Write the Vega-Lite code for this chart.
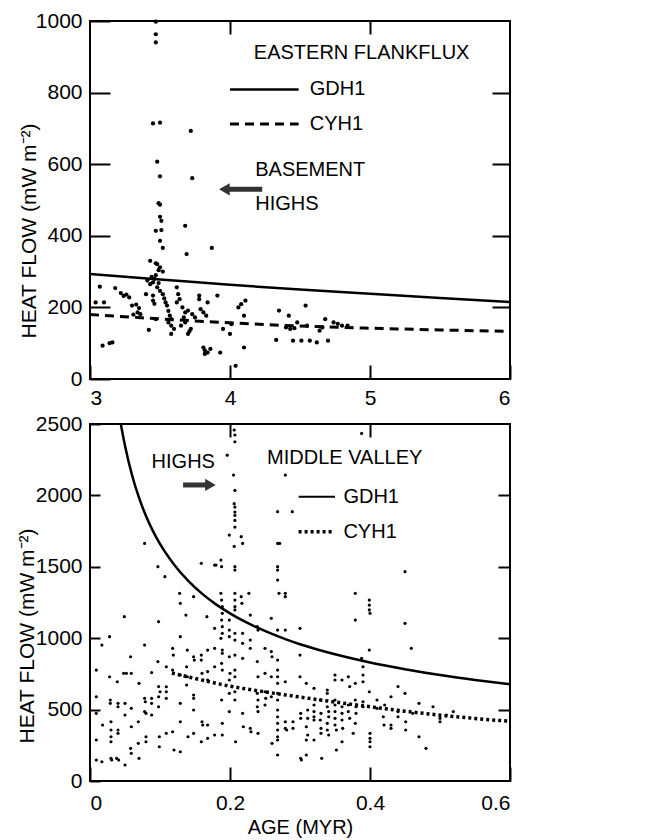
{
  "$schema": "https://vega.github.io/schema/vega-lite/v6.json",
  "padding": {"left": 14, "top": 9, "right": 10, "bottom": 4},
  "config": {
    "view": {"stroke": "black", "strokeWidth": 2},
    "font": "Liberation Sans",
    "axis": {"grid": false, "domain": false, "tickColor": "black", "tickWidth": 2, "labelColor": "black", "labelFont": "Liberation Sans", "labelFontSize": 21, "titleFont": "Liberation Sans", "titleFontSize": 21, "titleFontWeight": "normal", "titleColor": "black"},
    "concat": {"spacing": 3}
  },
  "datasets": {
    "eastPoints": [
      {"age":3.47,"hf":998},{"age":3.47,"hf":963},{"age":3.47,"hf":940},{"age":3.45,"hf":714},{"age":3.50,"hf":716},{"age":3.72,"hf":693},{"age":3.48,"hf":607},{"age":3.50,"hf":566},{"age":3.73,"hf":561},{"age":3.49,"hf":491},{"age":3.50,"hf":487},{"age":3.50,"hf":453},{"age":3.51,"hf":442},{"age":3.68,"hf":428},{"age":3.47,"hf":414},{"age":3.51,"hf":416},{"age":3.50,"hf":386},{"age":3.52,"hf":366},{"age":3.69,"hf":349},{"age":3.87,"hf":366},{"age":3.43,"hf":330},{"age":3.48,"hf":321},{"age":3.50,"hf":312},{"age":3.49,"hf":304},{"age":3.52,"hf":300},{"age":3.47,"hf":323},
      {"age":3.41,"hf":275},{"age":3.44,"hf":285},{"age":3.46,"hf":280},{"age":3.43,"hf":265},{"age":3.47,"hf":290},{"age":3.45,"hf":270},{"age":3.49,"hf":268},
      {"age":3.04,"hf":214},{"age":3.07,"hf":258},{"age":3.10,"hf":214},{"age":3.09,"hf":93},{"age":3.14,"hf":100},{"age":3.16,"hf":102},{"age":3.18,"hf":254},{"age":3.22,"hf":240},{"age":3.24,"hf":232},{"age":3.26,"hf":236},{"age":3.28,"hf":228},{"age":3.30,"hf":205},{"age":3.33,"hf":208},{"age":3.35,"hf":198},{"age":3.34,"hf":186},{"age":3.36,"hf":181},{"age":3.31,"hf":180},{"age":3.40,"hf":237},{"age":3.42,"hf":137},{"age":3.45,"hf":233},{"age":3.45,"hf":219},{"age":3.46,"hf":210},{"age":3.47,"hf":167},{"age":3.48,"hf":256},{"age":3.50,"hf":246},{"age":3.52,"hf":237},{"age":3.53,"hf":225},{"age":3.54,"hf":214},{"age":3.55,"hf":205},{"age":3.56,"hf":190},{"age":3.57,"hf":177},{"age":3.58,"hf":167},{"age":3.56,"hf":158},{"age":3.58,"hf":149},{"age":3.60,"hf":140},{"age":3.58,"hf":126},{"age":3.62,"hf":256},{"age":3.63,"hf":237},{"age":3.64,"hf":223},{"age":3.62,"hf":214},{"age":3.66,"hf":200},{"age":3.68,"hf":186},{"age":3.70,"hf":191},{"age":3.67,"hf":172},{"age":3.65,"hf":149},{"age":3.68,"hf":158},{"age":3.70,"hf":126},{"age":3.71,"hf":133},{"age":3.72,"hf":140},{"age":3.73,"hf":181},{"age":3.75,"hf":172},{"age":3.78,"hf":233},{"age":3.78,"hf":223},{"age":3.79,"hf":195},{"age":3.81,"hf":186},{"age":3.83,"hf":177},{"age":3.84,"hf":214},{"age":3.81,"hf":88},{"age":3.82,"hf":80},{"age":3.84,"hf":74},{"age":3.86,"hf":84},{"age":3.82,"hf":70},{"age":3.91,"hf":233},{"age":3.93,"hf":74},{"age":3.95,"hf":140},{"age":4.00,"hf":126},{"age":4.01,"hf":153},{"age":4.04,"hf":37},{"age":4.06,"hf":200},{"age":4.08,"hf":209},{"age":4.11,"hf":219},{"age":4.10,"hf":177},{"age":4.10,"hf":88},{"age":4.35,"hf":191},{"age":4.33,"hf":109},{"age":4.42,"hf":177},{"age":4.40,"hf":144},{"age":4.43,"hf":140},{"age":4.46,"hf":142},{"age":4.48,"hf":158},{"age":4.45,"hf":107},{"age":4.51,"hf":107},{"age":4.54,"hf":205},{"age":4.55,"hf":149},{"age":4.57,"hf":107},{"age":4.62,"hf":102},{"age":4.66,"hf":144},{"age":4.64,"hf":135},{"age":4.68,"hf":167},{"age":4.70,"hf":107},{"age":4.74,"hf":158},{"age":4.77,"hf":154},{"age":4.80,"hf":149},{"age":4.84,"hf":149}
    ],
    "eastGDH1": [{"age":3,"hf":293},{"age":3.5,"hf":278},{"age":4,"hf":263},{"age":4.5,"hf":250},{"age":5,"hf":238},{"age":5.5,"hf":226},{"age":6,"hf":215}],
    "eastCYH1": [{"age":3,"hf":180},{"age":3.5,"hf":168},{"age":4,"hf":157},{"age":4.5,"hf":148},{"age":5,"hf":142},{"age":5.5,"hf":137},{"age":6,"hf":133}],
    "midPoints": [
      {"age":0.009,"hf":777},{"age":0.009,"hf":590},{"age":0.009,"hf":474},{"age":0.009,"hf":287},{"age":0.009,"hf":147},{"age":0.017,"hf":135},{"age":0.018,"hf":392},{"age":0.017,"hf":952},{"age":0.028,"hf":1011},
      {"age":0.028,"hf":730},{"age":0.029,"hf":567},{"age":0.029,"hf":544},{"age":0.03,"hf":415},{"age":0.03,"hf":357},{"age":0.03,"hf":310},{"age":0.03,"hf":275},{"age":0.03,"hf":159},{"age":0.031,"hf":147},{"age":0.039,"hf":695},{"age":0.04,"hf":544},{"age":0.04,"hf":520},{"age":0.04,"hf":357},{"age":0.04,"hf":334},{"age":0.038,"hf":159},{"age":0.041,"hf":147},
      {"age":0.049,"hf":1151},{"age":0.048,"hf":754},{"age":0.052,"hf":754},{"age":0.05,"hf":544},{"age":0.05,"hf":462},{"age":0.05,"hf":112},{"age":0.058,"hf":870},{"age":0.059,"hf":754},{"age":0.059,"hf":509},{"age":0.059,"hf":380},{"age":0.058,"hf":229},{"age":0.059,"hf":194},
      {"age":0.07,"hf":684},{"age":0.069,"hf":415},{"age":0.069,"hf":264},{"age":0.07,"hf":159},
      {"age":0.078,"hf":1664},{"age":0.078,"hf":952},{"age":0.078,"hf":579},{"age":0.079,"hf":555},{"age":0.078,"hf":486},{"age":0.08,"hf":474},{"age":0.08,"hf":310},{"age":0.08,"hf":275},
      {"age":0.088,"hf":759},{"age":0.088,"hf":579},{"age":0.088,"hf":544},{"age":0.088,"hf":462},{"age":0.097,"hf":1501},{"age":0.098,"hf":1116},{"age":0.097,"hf":836},{"age":0.098,"hf":661},{"age":0.1,"hf":625},{"age":0.098,"hf":590},{"age":0.098,"hf":520},{"age":0.099,"hf":310},{"age":0.099,"hf":240},{"age":0.107,"hf":1431},{"age":0.109,"hf":800},{"age":0.109,"hf":660},{"age":0.109,"hf":625},{"age":0.109,"hf":579},{"age":0.109,"hf":334},
      {"age":0.118,"hf":929},{"age":0.119,"hf":882},{"age":0.118,"hf":777},{"age":0.118,"hf":345},{"age":0.12,"hf":217},{"age":0.128,"hf":1314},{"age":0.129,"hf":1244},{"age":0.129,"hf":1011},{"age":0.129,"hf":742},{"age":0.129,"hf":544},{"age":0.129,"hf":415},{"age":0.129,"hf":205},{"age":0.137,"hf":1162},{"age":0.139,"hf":917},{"age":0.138,"hf":800},{"age":0.139,"hf":730},{"age":0.138,"hf":672},{"age":0.14,"hf":310},{"age":0.148,"hf":1291},{"age":0.148,"hf":870},{"age":0.149,"hf":847},{"age":0.148,"hf":602},{"age":0.148,"hf":579},{"age":0.148,"hf":497},{"age":0.148,"hf":334},{"age":0.159,"hf":1524},{"age":0.159,"hf":882},{"age":0.159,"hf":847},{"age":0.16,"hf":754},{"age":0.16,"hf":415},{"age":0.161,"hf":392},{"age":0.159,"hf":275},{"age":0.167,"hf":1151},{"age":0.168,"hf":917},{"age":0.168,"hf":766},{"age":0.168,"hf":707},{"age":0.168,"hf":392},{"age":0.168,"hf":299},{"age":0.178,"hf":1512},{"age":0.18,"hf":1512},{"age":0.178,"hf":1069},{"age":0.178,"hf":929},{"age":0.178,"hf":800},{"age":0.178,"hf":322},
      {"age":0.187,"hf":1547},{"age":0.188,"hf":1501},{"age":0.187,"hf":1314},{"age":0.188,"hf":1267},{"age":0.189,"hf":1221},{"age":0.189,"hf":1174},{"age":0.188,"hf":1127},{"age":0.189,"hf":1081},{"age":0.189,"hf":1034},{"age":0.187,"hf":999},{"age":0.189,"hf":917},{"age":0.189,"hf":894},{"age":0.188,"hf":824},{"age":0.189,"hf":777},{"age":0.188,"hf":567},{"age":0.189,"hf":404},{"age":0.189,"hf":322},
      {"age":0.196,"hf":2282},{"age":0.199,"hf":1722},{"age":0.199,"hf":1127},{"age":0.199,"hf":1057},{"age":0.199,"hf":1011},{"age":0.199,"hf":870},{"age":0.2,"hf":754},{"age":0.199,"hf":707},{"age":0.199,"hf":614},{"age":0.199,"hf":486},
      {"age":0.206,"hf":2458},{"age":0.207,"hf":2423},{"age":0.207,"hf":2376},{"age":0.205,"hf":2142},{"age":0.207,"hf":2035},{"age":0.206,"hf":1942},{"age":0.207,"hf":1918},{"age":0.207,"hf":1883},{"age":0.207,"hf":1860},{"age":0.207,"hf":1825},{"age":0.207,"hf":1778},{"age":0.206,"hf":1643},{"age":0.207,"hf":1501},{"age":0.207,"hf":1477},{"age":0.207,"hf":1314},{"age":0.207,"hf":1267},{"age":0.207,"hf":1221},{"age":0.207,"hf":1198},{"age":0.207,"hf":1034},{"age":0.207,"hf":987},{"age":0.207,"hf":882},{"age":0.207,"hf":777},{"age":0.207,"hf":730},{"age":0.207,"hf":625},{"age":0.207,"hf":567},{"age":0.208,"hf":275},
      {"age":0.216,"hf":1711},{"age":0.218,"hf":1664},{"age":0.216,"hf":1291},{"age":0.217,"hf":1244},{"age":0.218,"hf":1034},{"age":0.218,"hf":964},{"age":0.218,"hf":859},{"age":0.218,"hf":474},{"age":0.219,"hf":380},{"age":0.227,"hf":1314},{"age":0.229,"hf":1162},{"age":0.229,"hf":987},{"age":0.229,"hf":929},{"age":0.229,"hf":369},{"age":0.23,"hf":345},{"age":0.239,"hf":1081},{"age":0.24,"hf":1057},{"age":0.239,"hf":836},{"age":0.24,"hf":730},{"age":0.239,"hf":614},{"age":0.24,"hf":567},{"age":0.239,"hf":520},{"age":0.24,"hf":486},{"age":0.24,"hf":334},{"age":0.25,"hf":929},{"age":0.25,"hf":754},{"age":0.25,"hf":625},{"age":0.251,"hf":579},{"age":0.25,"hf":532},{"age":0.259,"hf":1139},{"age":0.259,"hf":906},{"age":0.26,"hf":870},{"age":0.259,"hf":730},{"age":0.259,"hf":590},{"age":0.26,"hf":264},
      {"age":0.268,"hf":1886},{"age":0.268,"hf":1664},{"age":0.268,"hf":1501},{"age":0.268,"hf":1477},{"age":0.268,"hf":1407},{"age":0.27,"hf":1314},{"age":0.268,"hf":1057},{"age":0.268,"hf":847},{"age":0.268,"hf":777},{"age":0.268,"hf":730},{"age":0.268,"hf":684},{"age":0.268,"hf":614},{"age":0.268,"hf":567},{"age":0.268,"hf":497},{"age":0.268,"hf":450},{"age":0.268,"hf":404},{"age":0.268,"hf":357},{"age":0.268,"hf":310},{"age":0.268,"hf":287},{"age":0.268,"hf":182},{"age":0.271,"hf":1664},
      {"age":0.279,"hf":2142},{"age":0.279,"hf":1314},{"age":0.279,"hf":1291},{"age":0.279,"hf":1057},{"age":0.279,"hf":695},{"age":0.279,"hf":415},{"age":0.279,"hf":369},{"age":0.281,"hf":357},{"age":0.289,"hf":1886},{"age":0.29,"hf":415},{"age":0.29,"hf":369},{"age":0.3,"hf":1069},{"age":0.3,"hf":882},{"age":0.3,"hf":730},{"age":0.301,"hf":474},{"age":0.301,"hf":439},{"age":0.301,"hf":159},{"age":0.302,"hf":147},{"age":0.309,"hf":684},{"age":0.311,"hf":497},{"age":0.311,"hf":439},{"age":0.309,"hf":380},{"age":0.311,"hf":322},{"age":0.309,"hf":287},{"age":0.309,"hf":182},{"age":0.32,"hf":649},{"age":0.32,"hf":532},{"age":0.32,"hf":486},{"age":0.32,"hf":450},{"age":0.32,"hf":427},{"age":0.32,"hf":287},{"age":0.329,"hf":567},{"age":0.33,"hf":474},{"age":0.329,"hf":427},{"age":0.33,"hf":369},{"age":0.33,"hf":334},{"age":0.331,"hf":159},
      {"age":0.339,"hf":637},{"age":0.339,"hf":614},{"age":0.339,"hf":520},{"age":0.341,"hf":486},{"age":0.341,"hf":450},{"age":0.339,"hf":404},{"age":0.339,"hf":357},{"age":0.341,"hf":322},{"age":0.35,"hf":742},{"age":0.35,"hf":707},{"age":0.35,"hf":567},{"age":0.35,"hf":532},{"age":0.35,"hf":486},{"age":0.35,"hf":439},{"age":0.35,"hf":392},{"age":0.352,"hf":357},{"age":0.352,"hf":217},{"age":0.36,"hf":707},{"age":0.36,"hf":520},{"age":0.36,"hf":474},{"age":0.36,"hf":427},{"age":0.361,"hf":369},{"age":0.36,"hf":275},{"age":0.369,"hf":730},{"age":0.371,"hf":661},{"age":0.369,"hf":532},{"age":0.369,"hf":486},{"age":0.371,"hf":439},{"age":0.379,"hf":1314},{"age":0.379,"hf":1127},{"age":0.379,"hf":684},{"age":0.379,"hf":567},{"age":0.38,"hf":520},{"age":0.38,"hf":474},{"age":0.379,"hf":404},{"age":0.376,"hf":334},{"age":0.388,"hf":2434},{"age":0.388,"hf":859},{"age":0.39,"hf":800},{"age":0.39,"hf":742},{"age":0.39,"hf":695},{"age":0.39,"hf":555},{"age":0.39,"hf":520},
      {"age":0.399,"hf":1267},{"age":0.399,"hf":1232},{"age":0.399,"hf":1198},{"age":0.4,"hf":1174},{"age":0.399,"hf":917},{"age":0.399,"hf":625},{"age":0.4,"hf":334},{"age":0.4,"hf":299},{"age":0.4,"hf":275},{"age":0.4,"hf":240},{"age":0.41,"hf":567},{"age":0.41,"hf":509},{"age":0.419,"hf":450},{"age":0.42,"hf":392},{"age":0.421,"hf":532},{"age":0.43,"hf":590},{"age":0.43,"hf":392},{"age":0.43,"hf":369},{"age":0.44,"hf":661},{"age":0.44,"hf":486},{"age":0.44,"hf":450},{"age":0.45,"hf":1466},{"age":0.45,"hf":1104},{"age":0.45,"hf":614},{"age":0.451,"hf":415},{"age":0.451,"hf":357},{"age":0.459,"hf":929},{"age":0.461,"hf":474},{"age":0.47,"hf":544},{"age":0.47,"hf":310},{"age":0.48,"hf":229},{"age":0.49,"hf":520},{"age":0.5,"hf":439},{"age":0.5,"hf":415},{"age":0.509,"hf":462},{"age":0.519,"hf":486}
    ],
    "midGDH1": [{"age":0.044,"hf":2500},{"age":0.05,"hf":2348},{"age":0.06,"hf":2143},{"age":0.07,"hf":1984},{"age":0.08,"hf":1856},{"age":0.09,"hf":1750},{"age":0.1,"hf":1660},{"age":0.12,"hf":1516},{"age":0.14,"hf":1403},{"age":0.16,"hf":1312},{"age":0.18,"hf":1237},{"age":0.2,"hf":1174},{"age":0.22,"hf":1119},{"age":0.24,"hf":1072},{"age":0.26,"hf":1030},{"age":0.28,"hf":992},{"age":0.3,"hf":958},{"age":0.33,"hf":914},{"age":0.36,"hf":875},{"age":0.4,"hf":830},{"age":0.45,"hf":783},{"age":0.5,"hf":742},{"age":0.55,"hf":708},{"age":0.6,"hf":678}],
    "midCYH1": [{"age":0.117,"hf":756},{"age":0.15,"hf":718},{"age":0.2,"hf":664},{"age":0.25,"hf":624},{"age":0.3,"hf":588},{"age":0.35,"hf":553},{"age":0.4,"hf":520},{"age":0.45,"hf":489},{"age":0.5,"hf":461},{"age":0.55,"hf":438},{"age":0.6,"hf":418}]
  },
  "vconcat": [
    {
      "width": 420, "height": 358,
      "resolve": {"axis": {"x": "independent", "y": "independent"}},
      "layer": [
        {"data": {"name": "eastPoints"}, "mark": {"type": "circle", "color": "black", "opacity": 1, "size": 18},
         "encoding": {
           "x": {"field": "age", "type": "quantitative", "scale": {"domain": [3, 6], "nice": false, "zero": false},
                 "axis": {"orient": "bottom", "values": [3, 4, 5, 6], "format": "d", "tickSize": -14, "labelPadding": 22, "labelFontSize": 21, "labelFont": "Liberation Sans", "labelColor": "black", "title": null}},
           "y": {"field": "hf", "type": "quantitative", "scale": {"domain": [0, 1000], "nice": false},
                 "axis": {"orient": "left", "values": [0, 200, 400, 600, 800, 1000], "format": "d", "tickSize": -20, "labelPadding": 28, "labelFontSize": 21, "labelFont": "Liberation Sans", "labelColor": "black", "title": "HEAT FLOW (mW m⁻²)", "titleFontSize": 21, "titleFont": "Liberation Sans", "titleFontWeight": "normal", "titleColor": "black", "titleX": -55, "titleY": 317, "titleAlign": "left", "titleBaseline": "alphabetic", "titleAngle": 270}}
         }},
        {"data": {"name": "eastGDH1"}, "mark": {"type": "line", "color": "black", "strokeWidth": 2.5, "interpolate": "monotone"},
         "encoding": {
           "x": {"field": "age", "type": "quantitative", "axis": {"orient": "top", "values": [4, 5], "tickSize": -13, "labels": false, "title": null}},
           "y": {"field": "hf", "type": "quantitative", "axis": {"orient": "right", "values": [200, 400, 600, 800], "tickSize": -18, "labels": false, "title": null}}
         }},
        {"data": {"name": "eastCYH1"}, "mark": {"type": "line", "color": "black", "strokeWidth": 3, "strokeDash": [9, 6], "interpolate": "monotone"},
         "encoding": {
           "x": {"field": "age", "type": "quantitative", "axis": null},
           "y": {"field": "hf", "type": "quantitative", "axis": null}
         }},
        {"data": {"values": [{}]}, "mark": {"type": "rule", "color": "black", "strokeWidth": 2.5},
         "encoding": {"x": {"datum": 4.0, "type": "quantitative", "axis": null}, "x2": {"datum": 4.49}, "y": {"datum": 809, "type": "quantitative", "axis": null}}},
        {"data": {"values": [{}]}, "mark": {"type": "rule", "color": "black", "strokeWidth": 3, "strokeDash": [9, 6]},
         "encoding": {"x": {"datum": 4.0, "type": "quantitative", "axis": null}, "x2": {"datum": 4.49}, "y": {"datum": 712, "type": "quantitative", "axis": null}}},
        {"data": {"values": [{}]}, "mark": {"type": "rule", "color": "#333", "strokeWidth": 5},
         "encoding": {"x": {"datum": 3.98, "type": "quantitative", "axis": null}, "x2": {"datum": 4.23}, "y": {"datum": 530, "type": "quantitative", "axis": null}}},
        {"data": {"values": [{}]}, "mark": {"type": "point", "shape": "triangle-left", "filled": true, "color": "#333", "opacity": 1, "size": 150},
         "encoding": {"x": {"datum": 3.96, "type": "quantitative", "axis": null}, "y": {"datum": 530, "type": "quantitative", "axis": null}}},
        {"data": {"values": [{}]}, "mark": {"type": "text", "text": "EASTERN FLANKFLUX", "font": "Liberation Sans", "fontSize": 20, "align": "center", "baseline": "middle", "color": "black"},
         "encoding": {"x": {"datum": 4.94, "type": "quantitative", "axis": null}, "y": {"datum": 912, "type": "quantitative", "axis": null}}},
        {"data": {"values": [{}]}, "mark": {"type": "text", "text": "GDH1", "font": "Liberation Sans", "fontSize": 20, "align": "left", "baseline": "middle", "color": "black"},
         "encoding": {"x": {"datum": 4.57, "type": "quantitative", "axis": null}, "y": {"datum": 809, "type": "quantitative", "axis": null}}},
        {"data": {"values": [{}]}, "mark": {"type": "text", "text": "CYH1", "font": "Liberation Sans", "fontSize": 20, "align": "left", "baseline": "middle", "color": "black"},
         "encoding": {"x": {"datum": 4.57, "type": "quantitative", "axis": null}, "y": {"datum": 712, "type": "quantitative", "axis": null}}},
        {"data": {"values": [{}]}, "mark": {"type": "text", "text": "BASEMENT", "font": "Liberation Sans", "fontSize": 20, "align": "left", "baseline": "middle", "color": "black"},
         "encoding": {"x": {"datum": 4.18, "type": "quantitative", "axis": null}, "y": {"datum": 584, "type": "quantitative", "axis": null}}},
        {"data": {"values": [{}]}, "mark": {"type": "text", "text": "HIGHS", "font": "Liberation Sans", "fontSize": 20, "align": "left", "baseline": "middle", "color": "black"},
         "encoding": {"x": {"datum": 4.18, "type": "quantitative", "axis": null}, "y": {"datum": 488, "type": "quantitative", "axis": null}}}
      ]
    },
    {
      "width": 420, "height": 357,
      "resolve": {"axis": {"x": "independent", "y": "independent"}},
      "layer": [
        {"data": {"name": "midPoints"}, "mark": {"type": "circle", "color": "black", "opacity": 1, "size": 10},
         "encoding": {
           "x": {"field": "age", "type": "quantitative", "scale": {"domain": [0, 0.6], "nice": false, "zero": false},
                 "axis": {"orient": "bottom", "values": [0, 0.2, 0.4, 0.6], "format": "~g", "tickSize": -14, "labelPadding": 25, "labelFontSize": 21, "labelFont": "Liberation Sans", "labelColor": "black", "title": "AGE (MYR)", "titleFontSize": 20, "titleFont": "Liberation Sans", "titleFontWeight": "normal", "titleColor": "black", "titlePadding": 4}},
           "y": {"field": "hf", "type": "quantitative", "scale": {"domain": [0, 2500], "nice": false},
                 "axis": {"orient": "left", "values": [0, 500, 1000, 1500, 2000, 2500], "format": "d", "tickSize": -10, "labelPadding": 18, "labelFontSize": 21, "labelFont": "Liberation Sans", "labelColor": "black", "title": "HEAT FLOW (mW m⁻²)", "titleFontSize": 21, "titleFont": "Liberation Sans", "titleFontWeight": "normal", "titleColor": "black", "titleX": -57, "titleY": 319, "titleAlign": "left", "titleBaseline": "alphabetic", "titleAngle": 270}}
         }},
        {"data": {"name": "midGDH1"}, "mark": {"type": "line", "color": "black", "strokeWidth": 2.5, "interpolate": "monotone"},
         "encoding": {
           "x": {"field": "age", "type": "quantitative", "axis": {"orient": "top", "values": [0.2, 0.4], "tickSize": -13, "labels": false, "title": null}},
           "y": {"field": "hf", "type": "quantitative", "axis": {"orient": "right", "values": [500, 1000, 1500, 2000], "tickSize": -12, "labels": false, "title": null}}
         }},
        {"data": {"name": "midCYH1"}, "mark": {"type": "line", "color": "black", "strokeWidth": 3.5, "strokeDash": [3, 3], "interpolate": "monotone"},
         "encoding": {
           "x": {"field": "age", "type": "quantitative", "axis": null},
           "y": {"field": "hf", "type": "quantitative", "axis": null}
         }},
        {"data": {"values": [{}]}, "mark": {"type": "rule", "color": "black", "strokeWidth": 2},
         "encoding": {"x": {"datum": 0.298, "type": "quantitative", "axis": null}, "x2": {"datum": 0.35}, "y": {"datum": 1991, "type": "quantitative", "axis": null}}},
        {"data": {"values": [{}]}, "mark": {"type": "rule", "color": "black", "strokeWidth": 3.5, "strokeDash": [3, 3]},
         "encoding": {"x": {"datum": 0.298, "type": "quantitative", "axis": null}, "x2": {"datum": 0.348}, "y": {"datum": 1746, "type": "quantitative", "axis": null}}},
        {"data": {"values": [{}]}, "mark": {"type": "rule", "color": "#333", "strokeWidth": 5},
         "encoding": {"x": {"datum": 0.133, "type": "quantitative", "axis": null}, "x2": {"datum": 0.17}, "y": {"datum": 2073, "type": "quantitative", "axis": null}}},
        {"data": {"values": [{}]}, "mark": {"type": "point", "shape": "triangle-right", "filled": true, "color": "#333", "opacity": 1, "size": 150},
         "encoding": {"x": {"datum": 0.172, "type": "quantitative", "axis": null}, "y": {"datum": 2073, "type": "quantitative", "axis": null}}},
        {"data": {"values": [{}]}, "mark": {"type": "text", "text": "HIGHS", "font": "Liberation Sans", "fontSize": 20, "align": "left", "baseline": "middle", "color": "black"},
         "encoding": {"x": {"datum": 0.088, "type": "quantitative", "axis": null}, "y": {"datum": 2236, "type": "quantitative", "axis": null}}},
        {"data": {"values": [{}]}, "mark": {"type": "text", "text": "MIDDLE VALLEY", "font": "Liberation Sans", "fontSize": 20, "align": "left", "baseline": "middle", "color": "black"},
         "encoding": {"x": {"datum": 0.253, "type": "quantitative", "axis": null}, "y": {"datum": 2259, "type": "quantitative", "axis": null}}},
        {"data": {"values": [{}]}, "mark": {"type": "text", "text": "GDH1", "font": "Liberation Sans", "fontSize": 20, "align": "left", "baseline": "middle", "color": "black"},
         "encoding": {"x": {"datum": 0.362, "type": "quantitative", "axis": null}, "y": {"datum": 1991, "type": "quantitative", "axis": null}}},
        {"data": {"values": [{}]}, "mark": {"type": "text", "text": "CYH1", "font": "Liberation Sans", "fontSize": 20, "align": "left", "baseline": "middle", "color": "black"},
         "encoding": {"x": {"datum": 0.362, "type": "quantitative", "axis": null}, "y": {"datum": 1746, "type": "quantitative", "axis": null}}}
      ]
    }
  ]
}
